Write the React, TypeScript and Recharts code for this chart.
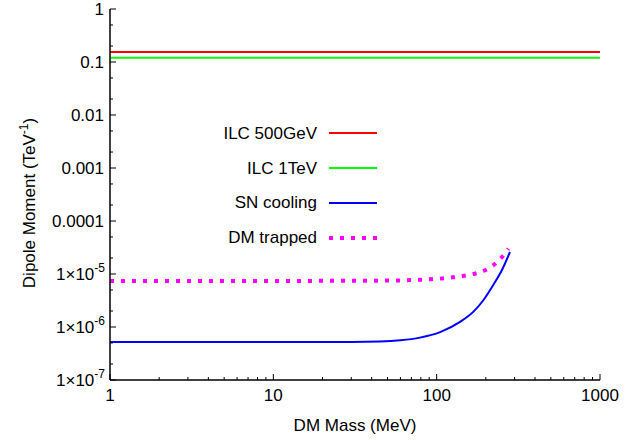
import React from 'react';
import { LineChart, Line, XAxis, YAxis, Legend } from 'recharts';

// ILC bounds (flat in DM mass)
const ilcMass = [1, 1000];
const ilc500Values = [0.155, 0.155];
const ilc1TeVValues = [0.12, 0.12];

// SN cooling bound
const snMass = [1, 10, 30, 45, 60, 79, 105, 139, 168, 193, 222, 251, 281];
const snValues = [5.2e-7, 5.2e-7, 5.2e-7, 5.3e-7, 5.6e-7, 6.3e-7, 8.0e-7, 1.25e-6, 1.95e-6, 3.2e-6, 6.2e-6, 1.19e-5, 2.6e-5];

// DM trapped bound
const trappedMass = [1, 10, 45, 80, 115, 157, 184, 212, 239, 266, 275];
const trappedValues = [7.4e-6, 7.4e-6, 7.5e-6, 7.8e-6, 8.4e-6, 9.6e-6, 1.08e-5, 1.32e-5, 1.78e-5, 2.6e-5, 3.0e-5];

const xTicks = [1, 2, 3, 4, 5, 6, 7, 8, 9, 10, 20, 30, 40, 50, 60, 70, 80, 90, 100, 200, 300, 400, 500, 600, 700, 800, 900, 1000];
const yTicks = [1e-7, 2e-7, 5e-7, 1e-6, 2e-6, 5e-6, 1e-5, 2e-5, 5e-5, 1e-4, 2e-4, 5e-4, 1e-3, 2e-3, 5e-3, 0.01, 0.02, 0.05, 0.1, 0.2, 0.5, 1];

const toPoints = (xs: number[], ys: number[]) => xs.map((x, i) => ({ x, y: ys[i] }));

const series = [
  { name: 'ILC 500GeV', color: '#ff0000', data: toPoints(ilcMass, ilc500Values), width: 2, dash: undefined },
  { name: 'ILC 1TeV', color: '#00ff00', data: toPoints(ilcMass, ilc1TeVValues), width: 2, dash: undefined },
  { name: 'SN cooling', color: '#0000ff', data: toPoints(snMass, snValues), width: 2, dash: undefined },
  { name: 'DM trapped', color: '#ff00ff', data: toPoints(trappedMass, trappedValues), width: 4, dash: '4 7' },
];

const FONT = '"Liberation Sans", Arial, Helvetica, sans-serif';

const isDecade = (v: number) => Math.abs(Math.log10(v) - Math.round(Math.log10(v))) < 1e-9;

const BottomTick = (props: any) => {
  const { x, y, payload } = props;
  const major = isDecade(payload.value);
  return (
    <g>
      <line x1={x} y1={y} x2={x} y2={y - (major ? 6 : 3)} stroke="#000" strokeWidth={1} />
      {major && (
        <text x={x} y={y + 21} textAnchor="middle" fontSize={17} fontFamily={FONT} fill="#000">
          {payload.value}
        </text>
      )}
    </g>
  );
};

const TopTick = (props: any) => {
  const { x, y, payload } = props;
  const major = isDecade(payload.value);
  return <line x1={x} y1={y} x2={x} y2={y + (major ? 6 : 3)} stroke="#000" strokeWidth={1} />;
};

const LeftTick = (props: any) => {
  const { x, y, payload } = props;
  const v = payload.value;
  const major = isDecade(v);
  const exp = Math.round(Math.log10(v));
  let label: React.ReactNode = null;
  if (major) {
    if (exp >= -4) {
      label = (
        <text x={x - 6} y={y + 6} textAnchor="end" fontSize={17} fontFamily={FONT} fill="#000">
          {v.toFixed(-exp)}
        </text>
      );
    } else {
      label = (
        <text x={x - 5} y={y + 6} textAnchor="end" fontSize={17} fontFamily={FONT} fill="#000">
          1×10
          <tspan fontSize={12} dy={-8}>{exp}</tspan>
        </text>
      );
    }
  }
  return (
    <g>
      <line x1={x} y1={y} x2={x + (major ? 6 : 3)} y2={y} stroke="#000" strokeWidth={1} />
      {label}
    </g>
  );
};

const RightTick = (props: any) => {
  const { x, y, payload } = props;
  const major = isDecade(payload.value);
  return <line x1={x} y1={y} x2={x - (major ? 6 : 3)} y2={y} stroke="#000" strokeWidth={1} />;
};

const LegendBox = () => (
  <div style={{ fontFamily: FONT, fontSize: 17, color: '#000' }}>
    {series.map((s) => (
      <div key={s.name} style={{ display: 'flex', alignItems: 'center', height: 34.8 }}>
        <span style={{ width: 127, textAlign: 'right', lineHeight: '17px' }}>{s.name}</span>
        <svg width={60} height={10} style={{ marginLeft: 12 }}>
          <line x1={0} y1={5} x2={48} y2={5} stroke={s.color} strokeWidth={s.width} strokeDasharray={s.dash} />
        </svg>
      </div>
    ))}
  </div>
);

const App = () => {
  return (
    <div style={{ position: 'absolute', left: 0, top: 0, width: 641, height: 440, background: '#fff' }}>
      <LineChart width={641} height={440} margin={{ top: 9, right: 41, bottom: 0, left: 0 }}>
        <XAxis
          xAxisId="b"
          dataKey="x"
          type="number"
          scale="log"
          domain={[1, 1000]}
          allowDataOverflow
          ticks={xTicks}
          interval={0}
          tick={<BottomTick />}
          tickSize={0}
          tickMargin={0}
          height={60}
          axisLine={{ stroke: '#000', strokeWidth: 1.5 }}
          label={{
            content: () => (
              <text x={355} y={431} textAnchor="middle" fontSize={17} fontFamily={FONT} fill="#000">
                DM Mass (MeV)
              </text>
            ),
          }}
        />
        <XAxis
          xAxisId="t"
          dataKey="x"
          type="number"
          orientation="top"
          scale="log"
          domain={[1, 1000]}
          allowDataOverflow
          ticks={xTicks}
          interval={0}
          tick={<TopTick />}
          tickSize={0}
          tickMargin={0}
          height={0}
          axisLine={{ stroke: '#000', strokeWidth: 1.5 }}
        />
        <YAxis
          yAxisId="l"
          dataKey="y"
          type="number"
          scale="log"
          domain={[1e-7, 1]}
          allowDataOverflow
          ticks={yTicks}
          interval={0}
          tick={<LeftTick />}
          tickSize={0}
          tickMargin={0}
          width={110}
          axisLine={{ stroke: '#000', strokeWidth: 1.5 }}
          label={{
            content: () => (
              <text
                x={35}
                y={203}
                textAnchor="middle"
                fontSize={17}
                fontFamily={FONT}
                fill="#000"
                transform="rotate(-90 35 203)"
              >
                Dipole Moment (TeV
                <tspan fontSize={12} dy={-7}>-1</tspan>
                <tspan dy={7}>)</tspan>
              </text>
            ),
          }}
        />
        <YAxis
          yAxisId="r"
          dataKey="y"
          type="number"
          orientation="right"
          scale="log"
          domain={[1e-7, 1]}
          allowDataOverflow
          ticks={yTicks}
          interval={0}
          tick={<RightTick />}
          tickSize={0}
          tickMargin={0}
          width={0}
          axisLine={{ stroke: '#000', strokeWidth: 1.5 }}
        />
        <Legend
          layout="horizontal"
          verticalAlign="middle"
          align="center"
          content={<LegendBox />}
          wrapperStyle={{ position: 'absolute', left: 190, top: 116, width: 200 }}
        />
        {series.map((s) => (
          <Line
            key={s.name}
            xAxisId="b"
            yAxisId="l"
            data={s.data}
            dataKey="y"
            name={s.name}
            type="monotone"
            stroke={s.color}
            strokeWidth={s.width}
            strokeDasharray={s.dash}
            dot={false}
            isAnimationActive={false}
          />
        ))}
      </LineChart>
    </div>
  );
};

export default App;
